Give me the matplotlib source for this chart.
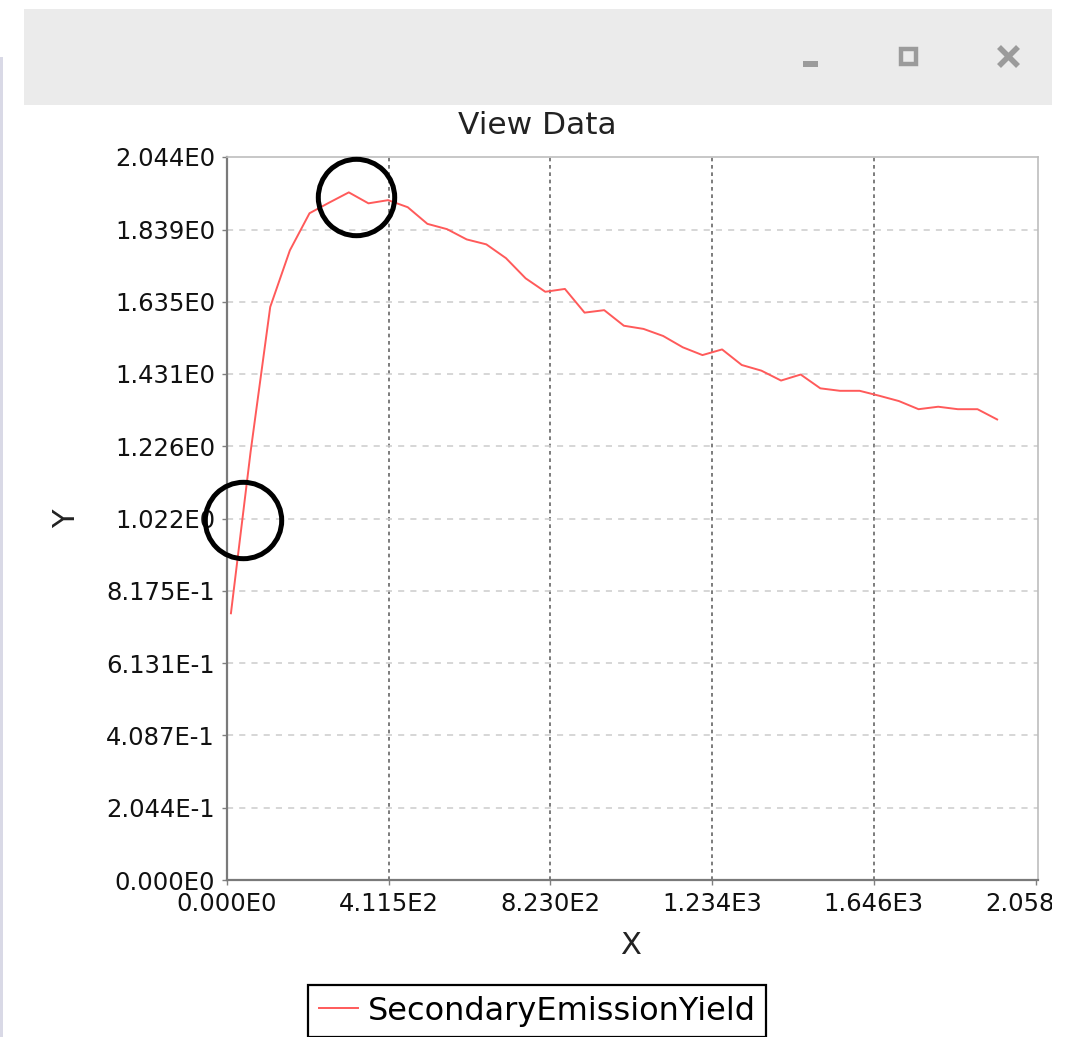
import matplotlib
matplotlib.use("Agg")
import matplotlib.pyplot as plt
from matplotlib.patches import Rectangle
from matplotlib.lines import Line2D
from matplotlib.transforms import Bbox, TransformedBbox

# secondary electron yield vs primary energy
energy = [10, 60, 110, 160, 210, 260, 310, 360, 410, 460,
          510, 560, 610, 660, 710, 760, 810, 860, 910, 960,
          1010, 1060, 1110, 1160, 1210, 1260, 1310, 1360, 1410, 1460,
          1510, 1560, 1610, 1660, 1710, 1760, 1810, 1860, 1910, 1960]
sey = [0.754, 1.21, 1.62, 1.78, 1.885, 1.915, 1.944, 1.913, 1.922, 1.902,
       1.855, 1.840, 1.811, 1.797, 1.758, 1.701, 1.663, 1.671, 1.604, 1.611,
       1.567, 1.558, 1.538, 1.506, 1.484, 1.500, 1.456, 1.440, 1.412, 1.429,
       1.390, 1.383, 1.383, 1.369, 1.354, 1.331, 1.338, 1.331, 1.331, 1.302]

# circled spots: yield maximum and first crossover (yield = 1)
mark_x = [328, 41]
mark_y = [1.931, 1.018]

xticks = [0, 411.5, 823, 1234, 1646, 2058]
xtick_labels = ["0.000E0", "4.115E2", "8.230E2", "1.234E3", "1.646E3", "2.058E3"]
yticks = [0, 0.2044, 0.4087, 0.6131, 0.8175, 1.022, 1.226, 1.431, 1.635, 1.839, 2.044]
ytick_labels = ["0.000E0", "2.044E-1", "4.087E-1", "6.131E-1", "8.175E-1", "1.022E0",
                "1.226E0", "1.431E0", "1.635E0", "1.839E0", "2.044E0"]

W, H = 1077, 1037
fig = plt.figure(figsize=(W / 100, H / 100), dpi=100)
fig.patch.set_facecolor("white")

def fx(px):
    return px / W

def fy(py):
    return 1 - py / H

# window chrome
fig.patches.append(Rectangle((0, fy(H)), fx(3), fy(57) - fy(H), transform=fig.transFigure,
                             facecolor="#d9d9e6", edgecolor="none", zorder=0))
fig.patches.append(Rectangle((fx(24), fy(105)), fx(1052) - fx(24), fy(9) - fy(105),
                             transform=fig.transFigure, facecolor="#ebebeb",
                             edgecolor="none", zorder=0))
icon = "#9b9b9b"
fig.patches.append(Rectangle((fx(803), fy(67)), fx(15), fy(61) - fy(67), transform=fig.transFigure,
                             facecolor=icon, edgecolor="none"))
fig.patches.append(Rectangle((fx(901), fy(64)), fx(15), fy(49) - fy(64), transform=fig.transFigure,
                             facecolor="none", edgecolor=icon, linewidth=3.2))
fig.lines.append(Line2D([fx(999), fx(1018)], [fy(47), fy(66)], transform=fig.transFigure,
                        color=icon, linewidth=4, solid_capstyle="butt"))
fig.lines.append(Line2D([fx(999), fx(1018)], [fy(66), fy(47)], transform=fig.transFigure,
                        color=icon, linewidth=4, solid_capstyle="butt"))

fig.text(fx(537), fy(126), "View Data", fontsize=22.5, color="#222222",
         ha="center", va="center")

ax = fig.add_axes([fx(227), fy(880), fx(1038) - fx(227), fy(157) - fy(880)])
ax.set_facecolor("white")

ax.plot(energy, sey, color="#ff5a5a", linewidth=1.4, label="SecondaryEmissionYield", zorder=3)
ax.plot(mark_x, mark_y, linestyle="none", marker="o", markersize=55,
        markerfacecolor="none", markeredgecolor="black", markeredgewidth=3.6,
        zorder=4, clip_on=False)

ax.set_xlim(0, 2064)
ax.set_ylim(0, 2.044)
ax.set_xticks(xticks)
ax.set_xticklabels(xtick_labels)
ax.set_yticks(yticks)
ax.set_yticklabels(ytick_labels)

for x in xticks[1:-1]:
    ax.axvline(x, color="#666666", linewidth=1.2, dashes=(2.2, 2.2), zorder=1)
for y in yticks[1:-1]:
    ax.axhline(y, color="#cbcbcb", linewidth=1.1, dashes=(4, 4), zorder=1)

ax.tick_params(axis="both", direction="out", length=3.6, width=1, color="#808080",
               labelsize=17.5, labelcolor="#111111")
ax.tick_params(axis="x", pad=5)
ax.tick_params(axis="y", pad=5)

for side in ["left", "bottom"]:
    ax.spines[side].set_color("#7a7a7a")
    ax.spines[side].set_linewidth(1.6)
for side in ["top", "right"]:
    ax.spines[side].set_color("#bdbdbd")
    ax.spines[side].set_linewidth(1.2)

# last x tick label gets cut at the panel edge
clip = TransformedBbox(Bbox([[0, 0], [fx(1052), 1]]), fig.transFigure)
last = ax.get_xticklabels()[-1]
last.set_clip_box(clip)
last.set_clip_on(True)

ax.set_xlabel("X", fontsize=22, color="#222222")
ax.set_ylabel("Y", fontsize=22, color="#222222", va="center")
ax.xaxis.set_label_coords(0.497, -0.09)
ax.yaxis.set_label_coords(-0.198, 0.5)
ax.xaxis.label.set_va("center")

leg = ax.legend(loc="upper left", bbox_to_anchor=(fx(308), fy(985)),
                bbox_transform=fig.transFigure, borderaxespad=0, fontsize=23,
                handlelength=1.25, handletextpad=0.28, borderpad=0.33,
                fancybox=False, framealpha=1, edgecolor="black")
leg.get_frame().set_linewidth(1.6)
leg.get_lines()[0].set_linewidth(1.4)

fig.savefig("out.png", dpi=100)
